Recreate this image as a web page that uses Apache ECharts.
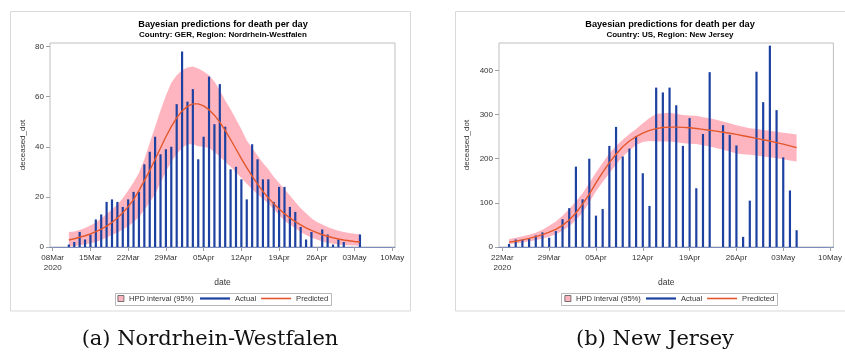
<!DOCTYPE html>
<html>
<head>
<meta charset="utf-8">
<script src="https://cdn.jsdelivr.net/npm/echarts@6.0.0/dist/echarts.min.js"></script>
<style>
  html, body { margin: 0; padding: 0; background: #fff; }
  #chart { width: 845px; height: 354px; }
</style>
</head>
<body>
<div id="chart"></div>
<script>
// Nordrhein-Westfalen, daily from 11Mar2020 to 04May2020
const gerActual = [
  1, 2, 6, 3, 5, 11, 13, 18, 19, 18, 16, 19, 22, 22, 33, 38, 44, 37, 39, 40, 57,
  78, 58, 63, 35, 44, 68, 49, 65, 48, 31, 32, 27, 19, 41, 35, 27, 27, 18, 24, 24, 16, 14, 8, 3, 6, 0, 7, 5, 1, 3,
  2, 0, 0, 5
];
const gerPredicted = [
  2.8, 3.3, 3.9, 4.5, 5.2, 6.1, 7.1, 8.3, 9.8, 11.6, 13.7, 16.1, 18.9, 22.5, 26.5, 30.5, 35.0, 39.5, 44.0, 48.0, 51.5,
  54.3, 56.1, 57.1, 57.1, 56.3, 54.8, 52.6, 49.8, 46.5, 42.9, 39.1, 35.3, 31.7, 28.3, 25.1, 22.2, 19.6, 17.3, 15.2, 13.3,
  11.6, 10.1, 8.8, 7.6, 6.6, 5.7, 4.9, 4.3, 3.7, 3.2,
  2.8, 2.5, 2.2, 2.0
];
const gerLower = [
  0.2, 0.4, 0.7, 1.0, 1.5, 2.0, 2.8, 3.8, 4.8, 5.8, 7.0, 8.3, 10.0, 12.0, 14.8, 17.8, 21.0, 25.5, 30.0, 34.0, 37.0,
  39.5, 41.0, 41.0, 40.2, 40.0, 39.5, 38.0, 36.0, 34.0, 32.0, 29.8, 27.5, 25.2, 23.0, 21.0, 19.2, 17.5, 15.0, 12.8, 10.5,
  9.0, 7.5, 6.0, 4.8, 3.8, 3.0, 2.2, 1.6, 1.3, 1.0,
  0.8, 0.7, 0.6, 0.5
];
const gerUpper = [
  6.0, 6.2, 6.8, 7.6, 8.6, 9.8, 11.4, 13.2, 15.0, 17.0, 19.5, 22.5, 25.8, 29.5, 35.0, 41.5, 48.0, 54.5, 60.5, 65.5, 68.5,
  70.5, 71.6, 72.0, 71.2, 70.0, 68.5, 66.0, 62.5, 58.5, 55.0, 51.0, 47.0, 42.5, 39.5, 36.5, 33.5, 31.0, 28.0, 25.5, 23.0,
  20.5, 18.0, 15.5, 13.5, 11.5, 10.0, 9.0, 8.0, 7.2, 6.5,
  6.0, 5.6, 5.3, 5.0
];

// New Jersey, daily from 23Mar2020 to 05May2020
const njActual = [
  7, 17, 17, 19, 26, 33, 21, 36, 63,
  88, 182, 108, 200, 71, 86, 229, 272, 205, 223, 251, 167, 93, 361, 350, 361, 321, 229, 292, 133,
  256, 396, 0, 276, 254, 230, 23, 105, 397, 328,
  456, 310, 203, 128, 38
];
const njPredicted = [
  11, 13, 16, 19.5, 23.5, 28, 33.5, 40, 49,
  61, 77, 97, 120, 145, 169, 191, 210, 227, 240, 250, 258, 264, 268, 270.5, 271.5, 271.5, 271, 270, 268.5,
  266.5, 264.5, 262.5, 260, 257.5, 255, 252, 249, 246, 243,
  240, 236.5, 233, 229, 225
];
const njLower = [
  7, 8, 10, 13, 15.5, 19, 23, 29, 37,
  47, 61, 78, 101, 126, 147, 167, 187, 205, 218, 231, 238, 240, 239, 239, 239, 237, 235, 234, 233.5,
  230.5, 227.5, 224, 220, 216, 212, 210, 208.7, 207, 205,
  203, 201, 198.5, 196, 193.6
];
const njUpper = [
  18, 21, 24.5, 28, 32.5, 39, 48, 58, 71,
  86, 103, 122, 145, 169, 191, 212, 229, 243, 256, 267, 280, 292, 301, 303, 304, 302, 299, 298, 297,
  294, 291.5, 288, 284, 280, 276, 272.5, 269, 267, 265,
  263, 261, 259, 257, 255
];

const gerYTicks = [0, 20, 40, 60, 80];
const njYTicks = [0, 100, 200, 300, 400];
const legendNames = ['HPD interval (95%)', 'Actual', 'Predicted'];

const MONTHS = ['Jan', 'Feb', 'Mar', 'Apr', 'May', 'Jun'];
function dayLabels(m0, d0, m1, d1) {
  const out = [];
  const d = new Date(Date.UTC(2020, m0, d0));
  const end = new Date(Date.UTC(2020, m1, d1));
  while (d <= end) {
    out.push(String(d.getUTCDate()).padStart(2, '0') + MONTHS[d.getUTCMonth()]);
    d.setUTCDate(d.getUTCDate() + 1);
  }
  return out;
}
const gerDays = dayLabels(2, 8, 4, 10);   // 08Mar .. 10May
const njDays = dayLabels(2, 22, 4, 10);   // 22Mar .. 10May

function pad(arr, offset, total) {
  const out = new Array(total).fill(null);
  arr.forEach((v, i) => { out[offset + i] = v; });
  return out;
}

const BLUE = '#1d41a1';
const ORANGE = '#e2582c';
const PINK = '#ffb5c0';
const FONT = 'Liberation Sans';

function xAxisFor(gridIndex, cats) {
  return {
    type: 'category', gridIndex, data: cats, boundaryGap: true,
    name: 'date', nameLocation: 'middle', nameGap: 29,
    nameTextStyle: { fontSize: 8.5, color: '#333', fontFamily: FONT },
    axisLine: { show: true, lineStyle: { color: '#7d8dbd', width: 1 } },
    axisTick: { show: true, alignWithLabel: true, interval: (i) => i % 7 === 0, length: 4, lineStyle: { color: '#a0a0a0' } },
    axisLabel: {
      interval: (i) => i % 7 === 0, margin: 6, fontSize: 8, lineHeight: 10, color: '#333', fontFamily: FONT,
      formatter: (v, i) => (i === 0 ? v + '\n2020' : v)
    },
    splitLine: { show: false },
    z: 10
  };
}

function yAxisFor(gridIndex, max, ticks, gap) {
  return {
    type: 'value', gridIndex, min: 0, max,
    name: 'deceased_dot', nameLocation: 'middle', nameGap: gap,
    nameTextStyle: { fontSize: 8, color: '#333', fontFamily: FONT },
    axisLine: { show: false },
    axisTick: { show: true, length: 4, customValues: ticks, lineStyle: { color: '#a0a0a0' } },
    axisLabel: { margin: 6, fontSize: 8, color: '#333', fontFamily: FONT, customValues: ticks },
    splitLine: { show: false }
  };
}

function seriesFor(idx, total, offset, actual, pred, lower, upper) {
  const width = upper.map((u, i) => +(u - lower[i]).toFixed(2));
  return [
    {
      name: 'lower' + idx, type: 'line', xAxisIndex: idx, yAxisIndex: idx, stack: 'hpd' + idx, z: 1,
      data: pad(lower, offset, total), symbol: 'none', lineStyle: { opacity: 0 }, silent: true
    },
    {
      name: legendNames[0], type: 'line', xAxisIndex: idx, yAxisIndex: idx, stack: 'hpd' + idx, z: 1,
      data: pad(width, offset, total), symbol: 'none', lineStyle: { opacity: 0 },
      areaStyle: { color: PINK, opacity: 1 }, itemStyle: { color: PINK }, silent: true
    },
    {
      name: legendNames[1], type: 'bar', xAxisIndex: idx, yAxisIndex: idx, barWidth: 2.2, z: 3,
      data: pad(actual, offset, total), itemStyle: { color: BLUE }
    },
    {
      name: legendNames[2], type: 'line', xAxisIndex: idx, yAxisIndex: idx, z: 4,
      data: pad(pred, offset, total), symbol: 'none', itemStyle: { color: ORANGE },
      lineStyle: { color: ORANGE, width: 1.4 }
    }
  ];
}

function legendsFor(sqLeft, lineLeft) {
  const common = {
    orient: 'horizontal', top: 294.5, padding: 0, selectedMode: false,
    textStyle: { fontSize: 7.6, color: '#333', fontFamily: FONT }
  };
  return [
    Object.assign({}, common, {
      left: sqLeft, itemWidth: 6, itemHeight: 6,
      data: [{ name: legendNames[0], icon: 'rect', itemStyle: { color: PINK, borderColor: '#555', borderWidth: 0.8 } }]
    }),
    Object.assign({}, common, {
      left: lineLeft, itemWidth: 30, itemHeight: 7, itemGap: 5,
      data: [
        { name: legendNames[1], icon: 'path://M0,0h30v2.2h-30z', itemStyle: { color: BLUE } },
        { name: legendNames[2], icon: 'path://M0,0h30v1.6h-30z', itemStyle: { color: ORANGE } }
      ]
    })
  ];
}

const chart = echarts.init(document.getElementById('chart'), null, { renderer: 'canvas' });

const option = {
  animation: false,
  backgroundColor: '#fff',
  textStyle: { fontFamily: FONT },
  title: [
    {
      text: 'Bayesian predictions for death per day',
      subtext: 'Country: GER, Region: Nordrhein-Westfalen',
      left: 223, top: 19, textAlign: 'center', itemGap: 0, padding: 0,
      textStyle: { fontSize: 9.2, fontWeight: 'bold', color: '#000', lineHeight: 11, fontFamily: FONT },
      subtextStyle: { fontSize: 8, fontWeight: 'bold', color: '#000', lineHeight: 10, fontFamily: FONT }
    },
    {
      text: 'Bayesian predictions for death per day',
      subtext: 'Country: US, Region: New Jersey',
      left: 670, top: 19, textAlign: 'center', itemGap: 0, padding: 0,
      textStyle: { fontSize: 9.2, fontWeight: 'bold', color: '#000', lineHeight: 11, fontFamily: FONT },
      subtextStyle: { fontSize: 8, fontWeight: 'bold', color: '#000', lineHeight: 10, fontFamily: FONT }
    },
    {
      text: '(a) Nordrhein-Westfalen', left: 210, top: 329, textAlign: 'center', padding: 0,
      textStyle: { fontSize: 21, fontWeight: 'normal', color: '#111', fontFamily: 'DejaVu Serif' }
    },
    {
      text: '(b) New Jersey', left: 655, top: 329, textAlign: 'center', padding: 0,
      textStyle: { fontSize: 21, fontWeight: 'normal', color: '#111', fontFamily: 'DejaVu Serif' }
    }
  ],
  graphic: [
    { type: 'rect', shape: { x: 10.5, y: 11.5, width: 400, height: 299.5 }, style: { fill: 'none', stroke: '#d9d9d9', lineWidth: 1 }, silent: true },
    { type: 'rect', shape: { x: 455.5, y: 11.5, width: 400, height: 299.5 }, style: { fill: 'none', stroke: '#d9d9d9', lineWidth: 1 }, silent: true },
    { type: 'rect', shape: { x: 115.5, y: 293.5, width: 216, height: 12 }, style: { fill: 'none', stroke: '#b8b8b8', lineWidth: 1 }, silent: true },
    { type: 'rect', shape: { x: 561.5, y: 293.5, width: 216, height: 12 }, style: { fill: 'none', stroke: '#b8b8b8', lineWidth: 1 }, silent: true }
  ],
  legend: legendsFor(117.5, 200).concat(legendsFor(564.5, 646)),
  grid: [
    { left: 50, top: 43, width: 345, height: 204, show: true, borderColor: '#bfbfbf', borderWidth: 1, containLabel: false },
    { left: 499, top: 43, width: 341, height: 204, show: true, borderColor: '#bfbfbf', borderWidth: 1, containLabel: false }
  ],
  xAxis: [xAxisFor(0, gerDays), xAxisFor(1, njDays)],
  yAxis: [yAxisFor(0, 81.4, gerYTicks, 23), yAxisFor(1, 462, njYTicks, 28)],
  series: []
    .concat(seriesFor(0, gerDays.length, 3, gerActual, gerPredicted, gerLower, gerUpper))
    .concat(seriesFor(1, njDays.length, 1, njActual, njPredicted, njLower, njUpper))
};

chart.setOption(option);
</script>
</body>
</html>
